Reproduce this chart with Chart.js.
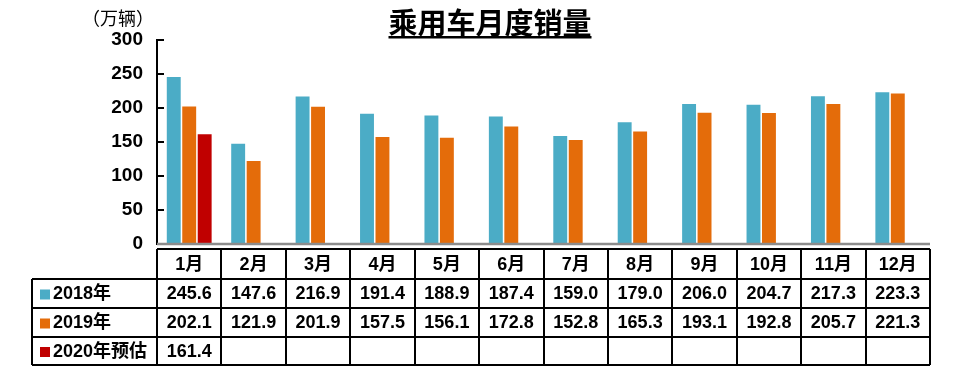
<!DOCTYPE html>
<html>
<head>
<meta charset="utf-8">
<script src="https://cdn.jsdelivr.net/npm/chart.js@4"></script>
<style>
  html, body { margin: 0; padding: 0; background: #fff; }
  #wrap { width: 975px; height: 384px; position: relative; }
</style>
</head>
<body>
<div id="wrap"><canvas id="sales"></canvas></div>
<script>
const months = ['1月', '2月', '3月', '4月', '5月', '6月', '7月', '8月', '9月', '10月', '11月', '12月'];
const sales2018 = [245.6, 147.6, 216.9, 191.4, 188.9, 187.4, 159.0, 179.0, 206.0, 204.7, 217.3, 223.3];
const sales2019 = [202.1, 121.9, 201.9, 157.5, 156.1, 172.8, 152.8, 165.3, 193.1, 192.8, 205.7, 221.3];
const sales2020 = [161.4, null, null, null, null, null, null, null, null, null, null, null];
const seriesNames = ['2018年', '2019年', '2020年预估'];
const yTicks = [0, 50, 100, 150, 200, 250, 300];

const colors = ['#4bacc6', '#e46c0a', '#c00000'];
const cjk = '"Liberation Sans", Arial, "Noto Sans CJK SC", sans-serif';
Chart.defaults.font.family = cjk;

// title, unit, inner ticks, baseline and the data table under the plot
const decor = {
  id: 'decor',
  afterDraw(chart) {
    const { ctx, chartArea: a, scales: { x, y } } = chart;
    const colW = (a.right - a.left) / months.length;
    ctx.save();

    // title
    ctx.fillStyle = '#000';
    ctx.font = 'bold 29px "Noto Sans CJK SC", sans-serif';
    ctx.textAlign = 'center';
    ctx.textBaseline = 'middle';
    const title = '乘用车月度销量';
    ctx.fillText(title, 490, 23);
    const tw = ctx.measureText(title).width;
    ctx.fillRect(490 - tw / 2, 36, tw, 2.5);

    // unit
    ctx.font = '18px "Noto Sans CJK SC", sans-serif';
    ctx.fillText('（万辆）', 118, 18);

    // inner tick marks
    ctx.strokeStyle = '#000';
    ctx.lineWidth = 2;
    yTicks.slice(1).forEach(v => {
      const py = Math.round(y.getPixelForValue(v));
      ctx.beginPath();
      ctx.moveTo(a.left, py);
      ctx.lineTo(a.left + 7, py);
      ctx.stroke();
    });

    // gray baseline
    ctx.strokeStyle = '#8c8c8c';
    ctx.lineWidth = 2.5;
    ctx.beginPath();
    ctx.moveTo(a.left, a.bottom);
    ctx.lineTo(a.right, a.bottom);
    ctx.stroke();

    // table
    const rows = [249, 279, 308, 337, 365];
    const legL = 32;
    ctx.strokeStyle = '#000';
    ctx.lineWidth = 2;
    ctx.beginPath();
    ctx.moveTo(a.left, rows[0]); ctx.lineTo(a.right, rows[0]);
    for (let r = 1; r < rows.length; r++) {
      ctx.moveTo(legL, rows[r]); ctx.lineTo(a.right, rows[r]);
    }
    ctx.moveTo(legL, rows[1]); ctx.lineTo(legL, rows[4]);
    for (let i = 0; i <= months.length; i++) {
      const px = Math.round(a.left + i * colW);
      ctx.moveTo(px, rows[0]); ctx.lineTo(px, rows[4]);
    }
    ctx.stroke();

    ctx.font = 'bold 18px "Liberation Sans", Arial, "Noto Sans CJK SC", sans-serif';
    ctx.textAlign = 'center';
    ctx.textBaseline = 'middle';
    months.forEach((m, i) => {
      ctx.fillText(m, x.getPixelForValue(i), (rows[0] + rows[1]) / 2 + 1);
    });
    const all = [sales2018, sales2019, sales2020];
    all.forEach((s, r) => {
      const cy = (rows[r + 1] + rows[r + 2]) / 2 + 1;
      s.forEach((v, i) => {
        if (v == null) return;
        ctx.fillText(v.toFixed(1), x.getPixelForValue(i), cy);
      });
      ctx.fillStyle = colors[r];
      ctx.fillRect(legL + 8, cy - 5, 10, 10);
      ctx.fillStyle = '#000';
      ctx.textAlign = 'left';
      ctx.fillText(seriesNames[r], legL + 21, cy);
      ctx.textAlign = 'center';
    });

    ctx.restore();
  }
};

new Chart(document.getElementById('sales'), {
  type: 'bar',
  data: {
    labels: months,
    datasets: [
      { label: seriesNames[0], data: sales2018, backgroundColor: colors[0] },
      { label: seriesNames[1], data: sales2019, backgroundColor: colors[1] },
      { label: seriesNames[2], data: sales2020, backgroundColor: colors[2] },
    ],
  },
  options: {
    responsive: true,
    maintainAspectRatio: false,
    animation: false,
    events: [],
    datasets: { bar: { categoryPercentage: 0.72, barPercentage: 0.9, borderWidth: 0 } },
    layout: { padding: { top: 40, right: 45, bottom: 140, left: 0 } },
    plugins: { legend: { display: false }, tooltip: { enabled: false } },
    scales: {
      x: { display: false, offset: true, grid: { display: false } },
      y: {
        min: 0,
        max: 300,
        afterFit(scale) { scale.width = 157; },
        afterBuildTicks(scale) { scale.ticks = yTicks.map(v => ({ value: v })); },
        border: { display: true, color: '#000', width: 2 },
        grid: { display: false, drawTicks: false },
        ticks: { padding: 14, color: '#000', font: { size: 19, weight: 'bold' } },
      },
    },
  },
  plugins: [decor],
});
</script>
</body>
</html>
